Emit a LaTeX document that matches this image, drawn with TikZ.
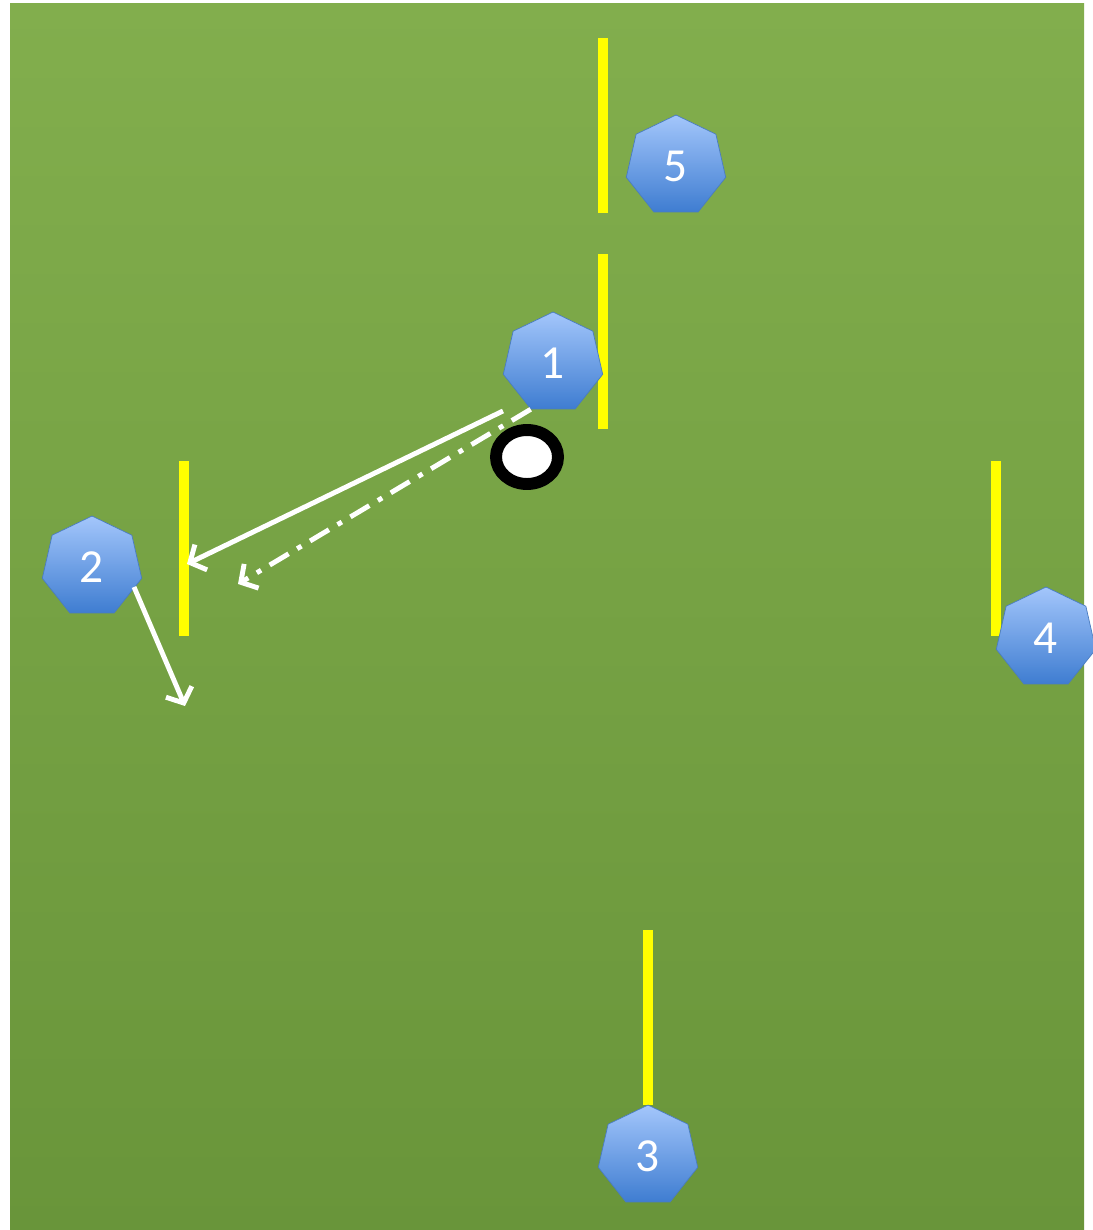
\documentclass[tikz,border=0pt]{standalone}
\usepackage{fontspec}
\setsansfont{Carlito}
\usepackage{xcolor}
\usetikzlibrary{arrows.meta, shapes.geometric}
\definecolor{cespedalto}{HTML}{82AE4D}
\definecolor{cespedbajo}{HTML}{69953A}
\definecolor{amarillo}{HTML}{FFFF00}
\definecolor{azulclaro}{HTML}{A3C6FB}
\definecolor{azul}{HTML}{3F7DD1}
\definecolor{azulborde}{HTML}{4A7CC0}
\tikzset{
  every picture/.style={font=\sffamily, >=Stealth},
  jugador/.style={regular polygon, regular polygon sides=7, minimum size=2.04cm, inner sep=0pt,
              draw=azulborde, thin, top color=azulclaro, bottom color=azul, text=white,
              font=\sffamily\fontsize{27}{30}\selectfont},
  valla/.style={draw=amarillo, line width=6.2pt},
  balon/.style={ellipse, draw=black, fill=white, line width=6.8pt, inner sep=0pt,
              minimum width=1.24cm, minimum height=1.08cm},
  flecha/.style={-{Straight Barb[length=7pt, width=16pt]}, white, line width=2.8pt},
  flechad/.style={flecha, dash pattern=on 0.44cm off 0.2cm on 0.1cm off 0.2cm},
}
\begin{document}
\begin{tikzpicture}[x=0.02cm, y=-0.02cm]
  \fill[white] (0,0) rectangle (1092,1230);
  \useasboundingbox (0,0) rectangle (1092,1230);
  \shade[top color=cespedalto, bottom color=cespedbajo] (10,4) rectangle (1084,1230);
  % vallas
  \draw[valla] (603,38) -- (603,213);
  \draw[valla] (603,254) -- (603,429);
  \draw[valla] (184,461) -- (184,636);
  \draw[valla] (996,461) -- (996,636);
  \draw[valla] (648,930) -- (648,1105);
  % balon
  \node[balon] (b) at (527,457) {};
  % jugadores
  \foreach \n/\x/\y in {1/553/363, 2/92/567, 3/648/1156, 4/1046/638, 5/676/166}
    \node[jugador] (j\n) at (\x,\y) {\n};
  % pases y desmarques
  \coordinate (s1) at (503,411);
  \coordinate (d1) at (187,564);
  \coordinate (d2) at (238,584);
  \coordinate (s2) at (134,587);
  \coordinate (d3) at (185,706);
  \draw[flecha] (s1) -- (d1);
  \draw[flechad] (j1.corner 4) -- (d2);
  \draw[flecha] (s2) -- (d3);
\end{tikzpicture}
\end{document}
